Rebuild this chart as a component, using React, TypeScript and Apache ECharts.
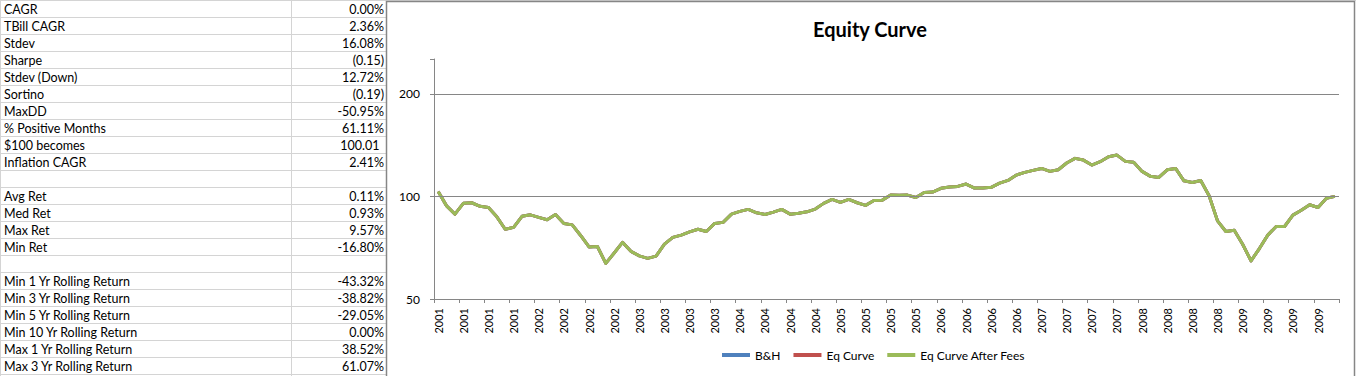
import React, { useEffect, useRef } from "react";
import * as echarts from "echarts";

// ---------- data ----------
const TITLE = "Equity Curve";
const YEARS = ["2001", "2002", "2003", "2004", "2005", "2006", "2007", "2008", "2009"];
const MONTHS_PER_YEAR = 12;

// monthly equity values, Jan 2001 .. Dec 2009
const EQUITY = [
  103.4, 93.8, 88.7, 95.4, 95.8, 93.5, 92.8, 87.1, 80.1, 81.1, 87.4, 88.3,
  86.8, 85.4, 88.5, 83.3, 82.5, 76.8, 71.1, 71.3, 63.6, 68.2, 73.3, 69.0,
  66.9, 65.8, 66.8, 72.4, 75.8, 77.0, 78.7, 80.1, 78.9, 83.3, 83.9, 88.7,
  90.4, 91.6, 89.5, 88.5, 89.9, 91.6, 88.7, 89.3, 90.1, 91.8, 95.4, 98.0,
  96.0, 98.0, 95.8, 94.1, 97.3, 97.5, 100.9, 100.7, 100.9, 99.3, 102.7, 103.0,
  105.6, 106.5, 107.0, 108.7, 105.8, 105.8, 106.3, 109.4, 111.4, 115.5, 117.6, 119.2,
  120.8, 118.4, 119.7, 125.3, 129.3, 127.8, 123.6, 126.4, 130.7, 132.2, 126.7, 125.9,
  118.4, 114.5, 113.7, 119.7, 120.8, 111.1, 109.9, 111.4, 100.4, 84.8, 78.9, 79.6,
  72.4, 64.7, 70.3, 77.0, 81.6, 81.6, 88.1, 91.1, 94.5, 92.8, 98.7, 100.0,
];

const SERIES_NAMES = ["B&H", "Eq Curve", "Eq Curve After Fees"];
const SERIES_COLORS = ["#4F81BD", "#C0504D", "#9BBB59"];

const Y_TICKS = [50, 100, 200];
const Y_MAX_VALUE = 253;

const STAT_LABELS = [
  "CAGR", "TBill CAGR", "Stdev", "Sharpe", "Stdev (Down)", "Sortino", "MaxDD",
  "% Positive Months", "$100 becomes", "Inflation CAGR", "",
  "Avg Ret", "Med Ret", "Max Ret", "Min Ret", "",
  "Min 1 Yr Rolling Return", "Min 3 Yr Rolling Return", "Min 5 Yr Rolling Return",
  "Min 10 Yr Rolling Return", "Max 1 Yr Rolling Return", "Max 3 Yr Rolling Return",
];
const STAT_VALUES = [
  "0.00%", "2.36%", "16.08%", "(0.15)", "12.72%", "(0.19)", "-50.95%",
  "61.11%", "100.01", "2.41%", "",
  "0.11%", "0.93%", "9.57%", "-16.80%", "",
  "-43.32%", "-38.82%", "-29.05%", "0.00%", "38.52%", "61.07%",
];

// ---------- helpers ----------
const toAxis = (v: number) => Math.log2(v / Y_TICKS[0]);
const CATEGORIES = YEARS.flatMap((y) => Array(MONTHS_PER_YEAR).fill(y));

const FONT = "Lato";
const ROW_H = 17;
const ROW_Y0 = 0.5;
const COL_SPLIT = 291.5;
const TABLE_RIGHT = 386;
const GRID_COLOR = "#d4d4d4";
const AXIS_COLOR = "#868686";

function buildTableGraphics() {
  const els: any[] = [];
  for (let k = 0; k <= 22; k++) {
    const y = ROW_Y0 + k * ROW_H;
    els.push({
      type: "line",
      silent: true,
      shape: { x1: 0, y1: y, x2: k === 0 ? 1356 : TABLE_RIGHT, y2: y },
      style: { stroke: GRID_COLOR, lineWidth: 1 },
    });
  }
  els.push({
    type: "line",
    silent: true,
    shape: { x1: COL_SPLIT, y1: 0, x2: COL_SPLIT, y2: 376 },
    style: { stroke: GRID_COLOR, lineWidth: 1 },
  });
  els.push({
    type: "line",
    silent: true,
    shape: { x1: 0.5, y1: 0, x2: 0.5, y2: 376 },
    style: { stroke: GRID_COLOR, lineWidth: 1 },
  });
  STAT_LABELS.forEach((label, k) => {
    const cy = ROW_Y0 + k * ROW_H + ROW_H / 2 + 0.5;
    if (label) {
      els.push({
        type: "text",
        silent: true,
        x: 4,
        y: cy,
        style: { text: label, font: `12.5px ${FONT}`, fill: "#000", align: "left", verticalAlign: "middle" },
      });
    }
    const val = STAT_VALUES[k];
    if (val) {
      const plain = !/[%()]/.test(val);
      els.push({
        type: "text",
        silent: true,
        x: plain ? 379.5 : 384,
        y: cy,
        style: { text: val, font: `12.5px ${FONT}`, fill: "#000", align: "right", verticalAlign: "middle" },
      });
    }
  });
  return els;
}

export default function App() {
  const ref = useRef<HTMLDivElement>(null);

  useEffect(() => {
    if (!ref.current) return;
    const chart = echarts.init(ref.current, null, { renderer: "svg" });

    const series = SERIES_NAMES.map((name, k) => {
      const s: any = {
        type: "line",
        name,
        data: EQUITY.map(toAxis),
        symbol: "none",
        z: 2 + k,
        lineStyle: { width: 3, color: SERIES_COLORS[k], join: "round" },
        itemStyle: { color: SERIES_COLORS[k] },
      };
      if (k === 0) {
        s.markLine = {
          silent: true,
          symbol: ["none", "none"],
          label: { show: false },
          lineStyle: { color: AXIS_COLOR, width: 1, type: "solid" },
          data: Y_TICKS.slice(1).map((t) => ({ yAxis: toAxis(t) })),
        };
      }
      return s;
    });

    chart.setOption({
      animation: false,
      backgroundColor: "#ffffff",
      grid: { left: 434, right: 17, top: 59, bottom: 77, containLabel: false },
      legend: {
        data: SERIES_NAMES,
        left: 722,
        top: 349,
        padding: 0,
        icon: "rect",
        itemWidth: 28,
        itemHeight: 4,
        itemGap: 13,
        textStyle: { fontFamily: FONT, fontSize: 12, color: "#000" },
      },
      xAxis: {
        type: "category",
        data: CATEGORIES,
        boundaryGap: true,
        axisLine: { show: true, lineStyle: { color: AXIS_COLOR } },
        axisTick: { show: true, interval: 2, length: 4, lineStyle: { color: AXIS_COLOR } },
        axisLabel: {
          interval: 2,
          rotate: 90,
          margin: 9,
          fontFamily: FONT,
          fontSize: 11,
          color: "#000",
        },
        splitLine: { show: false },
      },
      yAxis: {
        type: "value",
        min: 0,
        max: toAxis(Y_MAX_VALUE),
        interval: 1,
        axisLine: { show: true, lineStyle: { color: AXIS_COLOR } },
        axisTick: { show: true, length: 4, lineStyle: { color: AXIS_COLOR } },
        splitLine: { show: false },
        axisLabel: {
          margin: 14,
          fontFamily: FONT,
          fontSize: 12,
          color: "#000",
          formatter: (v: number) => {
            const r = Math.round(v);
            return Math.abs(v - r) < 1e-6 && Y_TICKS[r] !== undefined ? String(Y_TICKS[r]) : "";
          },
        },
      },
      graphic: [
        ...buildTableGraphics(),
        {
          type: "rect",
          silent: true,
          shape: { x: 386.5, y: 1.5, width: 968, height: 400 },
          style: { fill: "none", stroke: AXIS_COLOR, lineWidth: 1.5 },
        },
        {
          type: "text",
          silent: true,
          x: 870,
          y: 29,
          style: {
            text: TITLE,
            font: `bold 20px ${FONT}`,
            fill: "#000",
            align: "center",
            verticalAlign: "middle",
          },
        },
      ],
      series,
    });

    return () => chart.dispose();
  }, []);

  return (
    <div
      ref={ref}
      style={{ position: "fixed", left: 0, top: 0, width: 1356, height: 376, background: "#fff" }}
    />
  );
}
